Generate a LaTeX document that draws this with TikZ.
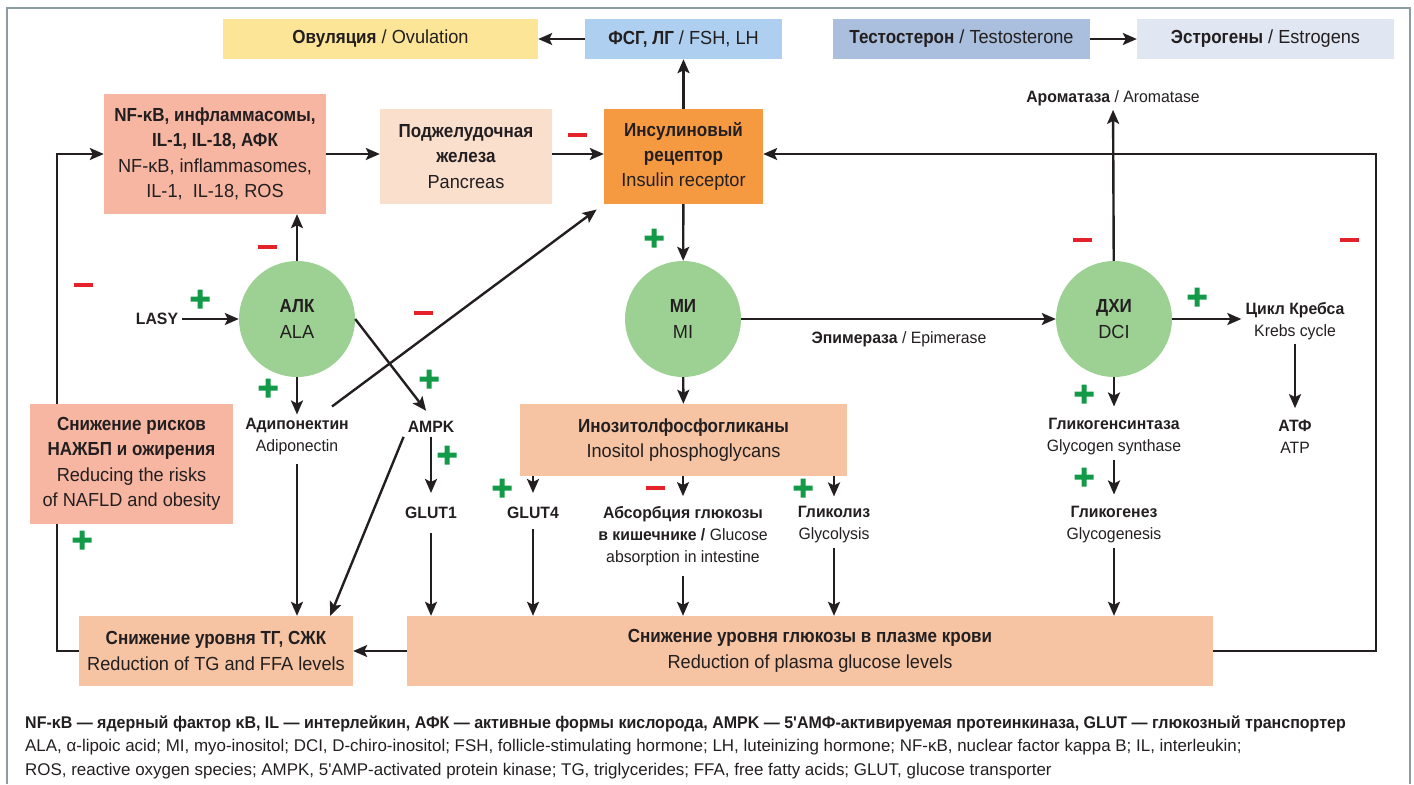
\documentclass[tikz,border=0pt]{standalone}
\usepackage{fontspec}
\setmainfont{Liberation Sans}[UprightFeatures={FakeStretch=0.96},BoldFeatures={FakeStretch=0.90}]
\newfontfamily\labelfamily{Liberation Sans}[UprightFeatures={FakeStretch=0.96},BoldFeatures={FakeStretch=0.96}]
\newfontfamily\legendfamily{Liberation Sans}[BoldFeatures={FakeStretch=0.945}]
\usepackage{xcolor}
\usetikzlibrary{arrows.meta,calc}

\definecolor{ink}{HTML}{231F20}
\definecolor{framegray}{HTML}{8D9CA2}
\definecolor{ovuyellow}{HTML}{FCE597}
\definecolor{fshblue}{HTML}{AECFF0}
\definecolor{testoblue}{HTML}{A9BFDD}
\definecolor{estroblue}{HTML}{E0E7F3}
\definecolor{salmon}{HTML}{F7B6A2}
\definecolor{peach}{HTML}{FADFCD}
\definecolor{irorange}{HTML}{F69A42}
\definecolor{paleorange}{HTML}{F6C4A3}
\definecolor{blobgreen}{HTML}{9DD194}
\definecolor{plusgreen}{HTML}{139A48}
\definecolor{minusred}{HTML}{E52129}

\newcommand\bigfs{\fontsize{19}{25.5}\selectfont}
\newcommand\smallfs{\labelfamily\fontsize{16.5}{22}\selectfont}
\newcommand\legendfs{\legendfamily\fontsize{17}{24}\selectfont}

\tikzset{
  box/.style={inner sep=0pt, align=center, font=\bigfs},
  blob/.style={circle, fill=blobgreen, minimum size=116bp, inner sep=0pt, align=center, font=\bigfs},
  lbl/.style={inner sep=4bp, align=center, font=\smallfs},
  arr/.style={-{Stealth[length=14bp,width=12bp,inset=3bp]}, line width=2.4bp, draw=ink},
  plussign/.pic={\fill[plusgreen] (-9.5,-2.5) rectangle (9.5,2.5) (-2.5,-9.5) rectangle (2.5,9.5);},
  minussign/.pic={\fill[minusred] (-9.5,-2) rectangle (9.5,2);}
}

\begin{document}
\begin{tikzpicture}[x=1bp,y=-1bp, every node/.style={text=ink}]
\useasboundingbox (0,0) rectangle (1414,784);
\draw[framegray, line width=2.5bp] (7,784) -- (7,8) -- (1410,8) -- (1410,784);

\node[box, fill=ovuyellow, minimum width=315bp, minimum height=40bp] (ovu) at (380.5,39) {\textbf{Овуляция} / Ovulation};
\node[box, fill=fshblue, minimum width=197bp, minimum height=40bp] (fsh) at (683.5,39) {\textbf{ФСГ, ЛГ} / FSH, LH};
\node[box, fill=testoblue, minimum width=257bp, minimum height=40bp] (testo) at (961.5,39) {\textbf{Тестостерон} / Testosterone};
\node[box, fill=estroblue, minimum width=257bp, minimum height=40bp] (estro) at (1265.5,39) {\textbf{Эстрогены} / Estrogens};

\node[box, fill=salmon, minimum width=222bp, minimum height=120bp] (nfkb) at (215,154) {\textbf{NF-κB, инфламмасомы,}\\\textbf{IL-1, IL-18, АФК}\\NF-κB, inflammasomes,\\IL-1,\ \ IL-18, ROS};
\node[box, fill=peach, minimum width=172bp, minimum height=95bp] (panc) at (466,156.5) {\textbf{Поджелудочная}\\\textbf{железа}\\Pancreas};
\node[box, fill=irorange, minimum width=159bp, minimum height=95bp] (ir) at (683.5,156.5) {\textbf{Инсулиновый}\\\textbf{рецептор}\\Insulin receptor};

\node[blob] (ala) at (297,319) {\textbf{АЛК}\\ALA};
\node[blob] (mi) at (683,319) {\textbf{МИ}\\MI};
\node[blob] (dci) at (1114,319) {\textbf{ДХИ}\\DCI};

\node[lbl] (lasy) at (157,319) {\textbf{LASY}};
\node[lbl] (adipo) at (297,437) {\textbf{Адипонектин}\\Adiponectin};
\node[lbl] (ampk) at (431,427) {\textbf{AMPK}};
\node[lbl] (glut1) at (431,513) {\textbf{GLUT1}};
\node[lbl] (glut4) at (533,513) {\textbf{GLUT4}};
\node[lbl] (absorb) at (683,536) {\textbf{Абсорбция глюкозы}\\\textbf{в кишечнике /} Glucose\\absorption in intestine};
\node[lbl] (glyco) at (834,525) {\textbf{Гликолиз}\\Glycolysis};
\node[lbl] (gs) at (1114,437) {\textbf{Гликогенсинтаза}\\Glycogen synthase};
\node[lbl] (glgen) at (1114,525) {\textbf{Гликогенез}\\Glycogenesis};
\node[lbl] (krebs) at (1295,321) {\textbf{Цикл Кребса}\\Krebs cycle};
\node[lbl] (atp) at (1295,437) {\textbf{АТФ}\\ATP};
\node[lbl] (aroma) at (1113,98) {\textbf{Ароматаза} / Aromatase};
\node[lbl] (epim) at (899,339) {\textbf{Эпимераза} / Epimerase};

\node[box, fill=paleorange, minimum width=327bp, minimum height=72bp] (ipg) at (683.5,440) {\textbf{Инозитолфосфогликаны}\\Inositol phosphoglycans};
\node[box, fill=paleorange, minimum width=274bp, minimum height=70bp] (tg) at (216,651) {\textbf{Снижение уровня ТГ, СЖК}\\Reduction of TG and FFA levels};
\node[box, fill=paleorange, minimum width=806bp, minimum height=70bp] (plasma) at (810,651) {\textbf{Снижение уровня глюкозы в плазме крови}\\Reduction of plasma glucose levels};

\draw[arr] (fsh) -- (ovu);
\draw[arr] (testo) -- (estro);
\draw[arr] (ir) -- (fsh);
\draw[arr] (nfkb.east) -- (panc.west |- nfkb.east);
\draw[arr] (panc.east |- nfkb.east) -- (ir.west |- nfkb.east);
\draw[arr] (ir) -- (mi);
\draw[arr] (ala.north) -- (ala.north |- nfkb.south);
\draw[arr] (lasy) -- (ala);
\draw[arr] (ala) -- (adipo);
\draw[arr, shorten >=8bp] (ala.east) -- (ampk.north);
\draw[arr, shorten >=9bp] ($(adipo.north)+(35,-8)$) -- (ir.south west);
\draw[arr, shorten <=4bp] (adipo) -- (adipo |- tg.north);
\draw[arr, shorten >=10bp] (ampk) -- (glut1);
\draw[arr] (ampk.south west) -- ([xshift=-23bp]tg.north east);
\draw[arr, shorten <=10bp] (glut1) -- (glut1 |- plasma.north);
\draw[arr] (mi) -- (ipg);
\draw[arr, shorten >=10bp] (ipg.south -| glut4) -- (glut4);
\draw[arr, shorten >=6bp] (ipg.south -| absorb) -- (absorb);
\draw[arr, shorten >=6bp] (ipg.south -| glyco) -- (glyco);
\draw[arr, shorten <=6bp] (glut4) -- (glut4 |- plasma.north);
\draw[arr, shorten <=6bp] (absorb) -- (absorb |- plasma.north);
\draw[arr] (glyco) -- (glyco |- plasma.north);
\draw[arr] (mi) -- (dci);
\draw[arr] (dci.east) -- (krebs.west |- dci.east);
\draw[arr, shorten >=8bp] (krebs) -- (atp);
\draw[arr, shorten >=8bp] (dci) -- (gs);
\draw[arr, shorten >=8bp] (gs) -- (glgen);
\draw[arr] (glgen) -- (glgen |- plasma.north);
\draw[arr] (dci) -- (aroma);
\draw[arr] (plasma.east) -- ++(163,0) |- (ir.east |- nfkb.east);
\draw[arr] (plasma) -- (tg);
\draw[arr] (tg.west) -- ++(-22,0) |- (nfkb.west);

\node[box, fill=salmon, minimum width=203bp, minimum height=120bp] (risk) at (131.5,464) {\textbf{Снижение рисков}\\\textbf{НАЖБП и ожирения}\\Reducing the risks\\of NAFLD and obesity};

\pic at (577,135) {minussign};
\pic at (267,247) {minussign};
\pic at (83,285) {minussign};
\pic at (423,313) {minussign};
\pic at (655,488) {minussign};
\pic at (1082,240) {minussign};
\pic at (1349,240) {minussign};
\pic at (654,238) {plussign};
\pic at (200,299) {plussign};
\pic at (268,388) {plussign};
\pic at (429,379) {plussign};
\pic at (447,455) {plussign};
\pic at (82,540) {plussign};
\pic at (502,488) {plussign};
\pic at (803,488) {plussign};
\pic at (1197,297) {plussign};
\pic at (1084,394) {plussign};
\pic at (1084,477) {plussign};

\node[anchor=base west, inner sep=0pt, font=\legendfs] (leg1) at (25,728) {\textbf{NF-κB — ядерный фактор κB, IL — интерлейкин, АФК — активные формы кислорода, AMPK — 5'АМФ-активируемая протеинкиназа, GLUT — глюкозный транспортер}};
\node[anchor=base west, inner sep=0pt, font=\legendfs] (leg2) at (25,751) {ALA, α-lipoic acid; MI, myo-inositol; DCI, D-chiro-inositol; FSH, follicle-stimulating hormone; LH, luteinizing hormone; NF-κB, nuclear factor kappa B; IL, interleukin;};
\node[anchor=base west, inner sep=0pt, font=\legendfs] (leg3) at (25,775) {ROS, reactive oxygen species; AMPK, 5'AMP-activated protein kinase; TG, triglycerides; FFA, free fatty acids; GLUT, glucose transporter};
\end{tikzpicture}
\end{document}
